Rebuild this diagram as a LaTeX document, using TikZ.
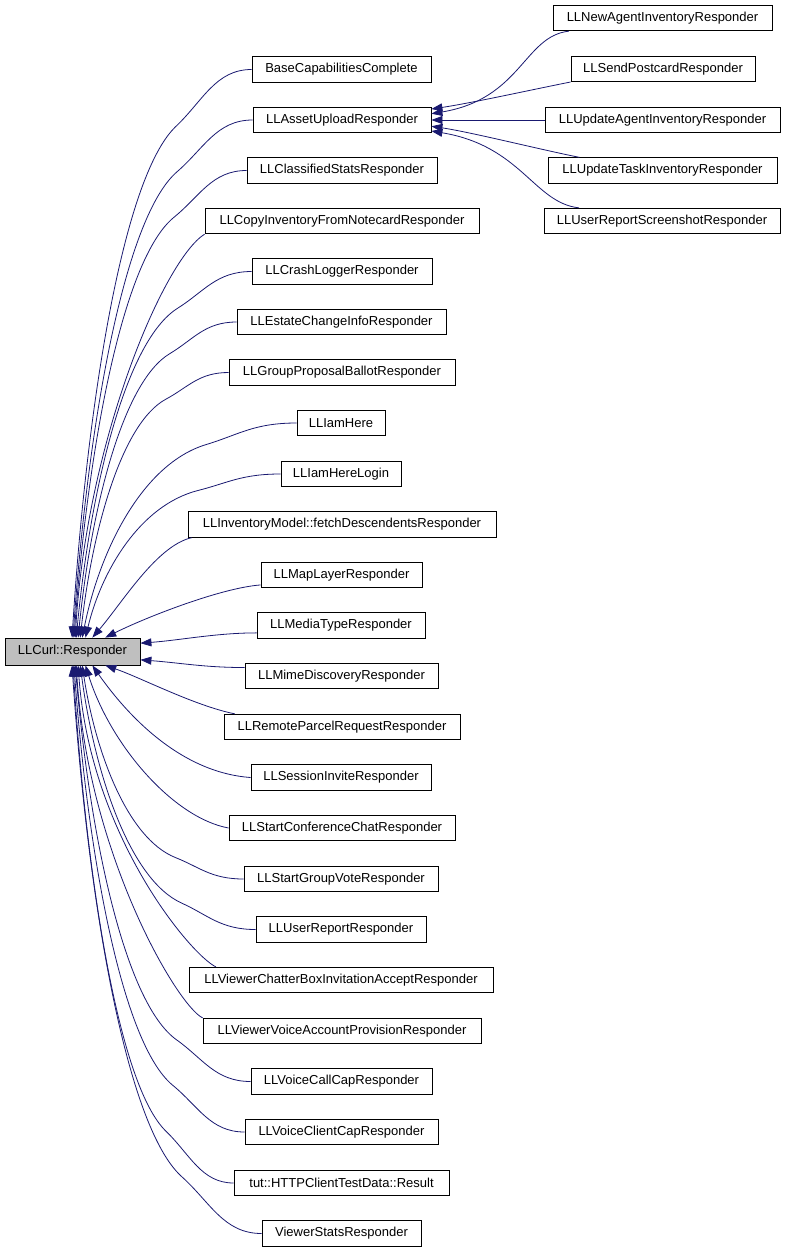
\documentclass[tikz,border=0pt]{standalone}
\usepackage{fontspec}
\setmainfont{Liberation Sans}
\usetikzlibrary{arrows.meta}
\definecolor{edgeblue}{HTML}{191970}
\definecolor{respgray}{HTML}{BFBFBF}
\newcommand\inhedge[4]{\draw[edge] (#1) .. controls +({-0.2*#3},0) and +({0.15*#3},{-0.045*(#4)}) .. ++({-0.42*#3},{0.1*(#4)}) .. controls +({-0.3*#3},{0.09*(#4)}) and +({0.08*#3},{-0.4*(#4)}) .. (#2);}
\begin{document}
\begin{tikzpicture}[x=1pt,y=-1pt,
  cls/.style={draw=black, fill=white, line width=0.8pt, minimum height=25.5pt, inner sep=0pt, font=\fontsize{13}{15}\selectfont},
  rootcls/.style={cls, fill=respgray, minimum height=27pt},
  edge/.style={draw=edgeblue, line width=0.8pt, -{Triangle[length=11pt,width=8pt]}},
]
\useasboundingbox (0,0) rectangle (787,1253);
% root
\node[rootcls, minimum width=135pt] (resp) at (72.5,651.5) {LLCurl::Responder};
% first level
\node[cls, minimum width=179pt] (base) at (341.5,69.5) {BaseCapabilitiesComplete};
\node[cls, minimum width=178pt] (asset) at (342,120) {LLAssetUploadResponder};
\node[cls, minimum width=190pt] (classified) at (342,170.5) {LLClassifiedStatsResponder};
\node[cls, minimum width=274pt] (copy) at (342,221) {LLCopyInventoryFromNotecardResponder};
\node[cls, minimum width=180pt] (crash) at (342,271.5) {LLCrashLoggerResponder};
\node[cls, minimum width=209pt] (estate) at (341.5,322) {LLEstateChangeInfoResponder};
\node[cls, minimum width=226pt] (group) at (342,372.5) {LLGroupProposalBallotResponder};
\node[cls, minimum width=88pt] (iam) at (341,423) {LLIamHere};
\node[cls, minimum width=120pt] (iamlogin) at (341,474) {LLIamHereLogin};
\node[cls, minimum width=308pt] (inv) at (342,524.5) {LLInventoryModel::fetchDescendentsResponder};
\node[cls, minimum width=161pt] (maplayer) at (341.5,575) {LLMapLayerResponder};
\node[cls, minimum width=168pt] (media) at (341,625.5) {LLMediaTypeResponder};
\node[cls, minimum width=193pt] (mime) at (341.5,676) {LLMimeDiscoveryResponder};
\node[cls, minimum width=236pt] (remote) at (342,727) {LLRemoteParcelRequestResponder};
\node[cls, minimum width=180pt] (session) at (341,777.5) {LLSessionInviteResponder};
\node[cls, minimum width=226pt] (startconf) at (342,828) {LLStartConferenceChatResponder};
\node[cls, minimum width=194pt] (vote) at (341,879) {LLStartGroupVoteResponder};
\node[cls, minimum width=170pt] (userreport) at (341,929.5) {LLUserReportResponder};
\node[cls, minimum width=304pt] (chatter) at (341,980) {LLViewerChatterBoxInvitationAcceptResponder};
\node[cls, minimum width=278pt] (voiceacct) at (342,1031) {LLViewerVoiceAccountProvisionResponder};
\node[cls, minimum width=181pt] (voicecall) at (341.5,1081.5) {LLVoiceCallCapResponder};
\node[cls, minimum width=193pt] (voiceclient) at (341.5,1132) {LLVoiceClientCapResponder};
\node[cls, minimum width=215pt] (tut) at (341.5,1183) {tut::HTTPClientTestData::Result};
\node[cls, minimum width=159pt] (viewerstats) at (341.5,1233.5) {ViewerStatsResponder};
% second level
\node[cls, minimum width=219pt] (newagent) at (662.5,18) {LLNewAgentInventoryResponder};
\node[cls, minimum width=184pt] (postcard) at (663,69) {LLSendPostcardResponder};
\node[cls, minimum width=235pt] (updagent) at (662.5,120) {LLUpdateAgentInventoryResponder};
\node[cls, minimum width=229pt] (updtask) at (662.5,170.5) {LLUpdateTaskInventoryResponder};
\node[cls, minimum width=236pt] (screenshot) at (662,221) {LLUserReportScreenshotResponder};

% edges to LLCurl::Responder (upper)
\inhedge{base.west}{resp.92}{180}{568}
\inhedge{asset.west}{resp.88}{180}{518}
\inhedge{classified.west}{resp.84}{173}{468}
\draw[edge] (copy.south west) .. controls +(-40,25) and +(12,-200) .. (resp.79.5);
\inhedge{crash.west}{resp.75.5}{176}{367}
\inhedge{estate.west}{resp.68}{159}{316}
\inhedge{group.west}{resp.61}{149}{266}
\inhedge{iam.west}{resp.55}{215}{215}
\inhedge{iamlogin.west}{resp.47}{196}{164}
\draw[edge] (inv.185.85) .. controls +(-35,8) and +(30,-35) .. (resp.35);
\draw[edge] (maplayer.187) .. controls +(-40,3) and +(40,-20) .. (resp.23);
\draw[edge] (media.185) .. controls +(-40,0) and +(40,-3) .. (resp.7);
% lower
\draw[edge] (mime.175) .. controls +(-40,0) and +(40,3) .. (resp.-7);
\draw[edge] (remote.173) .. controls +(-40,-8) and +(35,12) .. (resp.-23);
\draw[edge] (session.west) .. controls +(-70,-5) and +(35,50) .. (resp.-35);
\draw[edge] (startconf.west) .. controls +(-55,-10) and +(25,80) .. (resp.-47);
\inhedge{vote.west}{resp.-55}{162}{-214}
\inhedge{userreport.west}{resp.-61}{176}{-264}
\draw[edge] (chatter.174.8) .. controls +(-25,-12) and +(12,170) .. (resp.-68);
\draw[edge] (voiceacct.north west) .. controls +(-25,-12) and +(12,190) .. (resp.-75.5);
\inhedge{voicecall.west}{resp.-79.5}{176}{-416}
\inhedge{voiceclient.west}{resp.-84}{171}{-467}
\inhedge{tut.west}{resp.-88}{161}{-518}
\inhedge{viewerstats.west}{resp.-92}{190}{-568}

% edges to LLAssetUploadResponder
\draw[edge] (newagent.188.2) .. controls +(-45,5) and +(90,-15) .. (asset.4.5);
\draw[edge] (postcard.188.6) .. controls +(-40,8) and +(40,-6) .. (asset.7.6);
\draw[edge] (updagent.west) -- (asset.east);
\draw[edge] (updtask.171.7) .. controls +(-40,-8) and +(40,6) .. (asset.-4.5);
\draw[edge] (screenshot.171.8) .. controls +(-45,-5) and +(90,15) .. (asset.-7.6);
\end{tikzpicture}
\end{document}
